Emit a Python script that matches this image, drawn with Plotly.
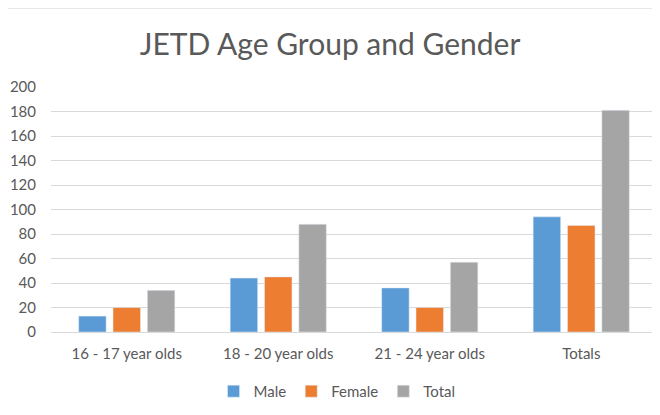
import plotly.graph_objects as go

categories = ["16 - 17 year olds", "18 - 20 year olds", "21 - 24 year olds", "Totals"]
male = [13, 44, 36, 94]
female = [20, 45, 20, 87]
total = [34, 88, 57, 181]
y_ticks = list(range(0, 201, 20))

FONT = "Lato"
TEXT = "#595959"

fig = go.Figure()
fig.add_trace(go.Bar(name="Male", x=categories, y=male, marker_color="#5b9bd5"))
fig.add_trace(go.Bar(name="Female", x=categories, y=female, marker_color="#ed7d31"))
fig.add_trace(go.Bar(name="Total", x=categories, y=total, marker_color="#a5a5a5"))

# the page body has an 8px default margin, so margins are pulled in by 8px
fig.update_layout(
    width=660,
    height=415,
    barmode="group",
    bargap=0.32,
    bargroupgap=0.2,
    font=dict(family=FONT, size=15, color=TEXT),
    title=dict(
        text="JETD Age Group and Gender",
        x=0.488, xref="container", xanchor="center",
        y=0.913, yanchor="middle",
        font=dict(family=FONT, size=30, color=TEXT),
    ),
    margin=dict(l=43, r=11, t=79, b=91),
    plot_bgcolor="white",
    paper_bgcolor="white",
    showlegend=True,
    legend=dict(
        orientation="h",
        x=0.472, xanchor="center",
        y=-0.175, yanchor="top",
        font=dict(family=FONT, size=15, color=TEXT),
        itemwidth=30,
        traceorder="normal",
    ),
    xaxis=dict(
        automargin=False,
        showgrid=False,
        showline=True,
        linecolor="#d9d9d9",
        linewidth=1,
        ticks="",
        tickfont=dict(size=15, color=TEXT),
        ticklabelstandoff=8,
    ),
    yaxis=dict(
        automargin=False,
        range=[0, 200],
        tickvals=y_ticks,
        showgrid=True,
        gridcolor="#d9d9d9",
        gridwidth=1,
        zeroline=False,
        showline=False,
        ticks="",
        tickfont=dict(size=15, color=TEXT),
        ticklabelstandoff=14,
    ),
    shapes=[
        dict(type="line", xref="paper", yref="paper",
             x0=-0.09, x1=1.0, y0=1.322, y1=1.322,
             line=dict(color="#d9d9d9", width=1)),
    ],
)

fig.write_html("out.html")
